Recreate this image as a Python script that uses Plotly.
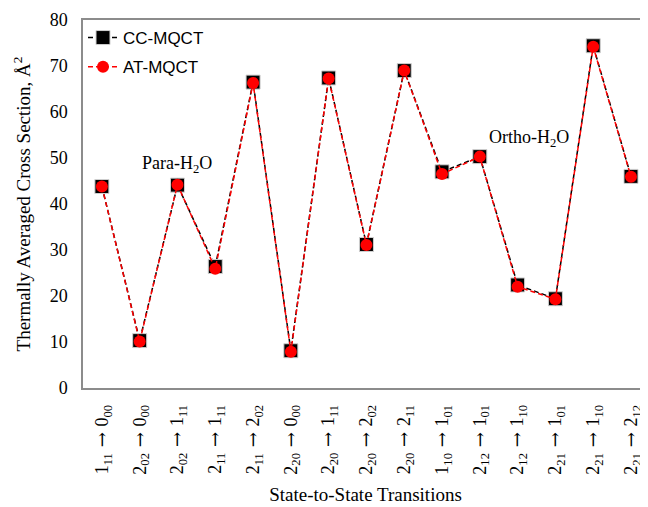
import plotly.graph_objects as go

ARROW = "<span style='font-family:DejaVu Serif'> → </span>"
transitions = [
    "1<sub>11</sub>" + ARROW + "0<sub>00</sub>",
    "2<sub>02</sub>" + ARROW + "0<sub>00</sub>",
    "2<sub>02</sub>" + ARROW + "1<sub>11</sub>",
    "2<sub>11</sub>" + ARROW + "1<sub>11</sub>",
    "2<sub>11</sub>" + ARROW + "2<sub>02</sub>",
    "2<sub>20</sub>" + ARROW + "0<sub>00</sub>",
    "2<sub>20</sub>" + ARROW + "1<sub>11</sub>",
    "2<sub>20</sub>" + ARROW + "2<sub>02</sub>",
    "2<sub>20</sub>" + ARROW + "2<sub>11</sub>",
    "1<sub>10</sub>" + ARROW + "1<sub>01</sub>",
    "2<sub>12</sub>" + ARROW + "1<sub>01</sub>",
    "2<sub>12</sub>" + ARROW + "1<sub>10</sub>",
    "2<sub>21</sub>" + ARROW + "1<sub>01</sub>",
    "2<sub>21</sub>" + ARROW + "1<sub>10</sub>",
    "2<sub>21</sub>" + ARROW + "2<sub>12</sub>",
]
cc_mqct = [43.8, 10.3, 44.1, 26.4, 66.5, 8.1, 67.4, 31.2, 69.0, 47.0, 50.3, 22.4, 19.4, 74.4, 46.0]
at_mqct = [43.8, 10.1, 44.2, 25.9, 66.3, 7.9, 67.3, 31.1, 69.0, 46.5, 50.3, 22.0, 19.3, 74.2, 45.9]
y_ticks = [0, 10, 20, 30, 40, 50, 60, 70, 80]

x = list(range(len(transitions)))

fig = go.Figure()
fig.add_trace(go.Scatter(
    x=x, y=cc_mqct, name="CC-MQCT", mode="lines+markers", legendgroup="cc",
    line=dict(color="black", width=1.5, dash="5px,3px"),
    marker=dict(symbol="square", size=14, color="black",
                line=dict(color="#d0d0d0", width=1)),
))
fig.add_trace(go.Scatter(
    x=x, y=at_mqct, name="AT-MQCT", mode="lines+markers", legendgroup="at",
    line=dict(color="#ff0000", width=1.5, dash="5px,3px"),
    marker=dict(symbol="circle", size=12, color="#ff0000",
                line=dict(width=0)),
))

serif = "Liberation Serif, Times New Roman, serif"

fig.add_annotation(x=2.0, y=48.6, xref="x", yref="y", text="Para-H<sub>2</sub>O",
                   showarrow=False, font=dict(family=serif, size=18, color="black"))
fig.add_annotation(x=11.3, y=54.3, xref="x", yref="y", text="Ortho-H<sub>2</sub>O",
                   showarrow=False, font=dict(family=serif, size=18, color="black"))

# page has an 8px body margin, so the figure is drawn 8px right and down
fig.update_layout(
    width=640, height=499,
    margin=dict(l=75, r=0, t=12, b=119, autoexpand=False),
    paper_bgcolor="white", plot_bgcolor="white",
    showlegend=True,
    legend=dict(x=0.0, y=1.0, xanchor="left", yanchor="top",
                bgcolor="rgba(0,0,0,0)",
                font=dict(family="Liberation Sans, Arial, sans-serif", size=17, color="black"),
                itemwidth=30, tracegroupgap=4),
    font=dict(family=serif, color="black"),
)
fig.update_xaxes(
    automargin=False,
    tickmode="array", tickvals=x, ticktext=transitions, tickangle=-90,
    range=[-0.5, 14.45], showgrid=False, zeroline=False,
    showline=True, linecolor="#8c8c8c", linewidth=1.5, mirror=True,
    ticks="", ticklabelstandoff=8, tickfont=dict(family=serif, size=18, color="black"),
    title=dict(text="State-to-State Transitions", font=dict(family=serif, size=19, color="black"),
               standoff=14),
)
fig.update_yaxes(
    automargin=False,
    range=[0, 80], tickmode="array", tickvals=y_ticks, showgrid=False, zeroline=False,
    showline=True, linecolor="#8c8c8c", linewidth=1.5, mirror=True,
    ticks="", ticklabelstandoff=10, tickfont=dict(family=serif, size=18, color="black"),
    title=dict(text="Thermally Averaged Cross Section, Å<sup>2</sup>",
               font=dict(family=serif, size=19, color="black"), standoff=14),
)

fig.write_html("out.html")
